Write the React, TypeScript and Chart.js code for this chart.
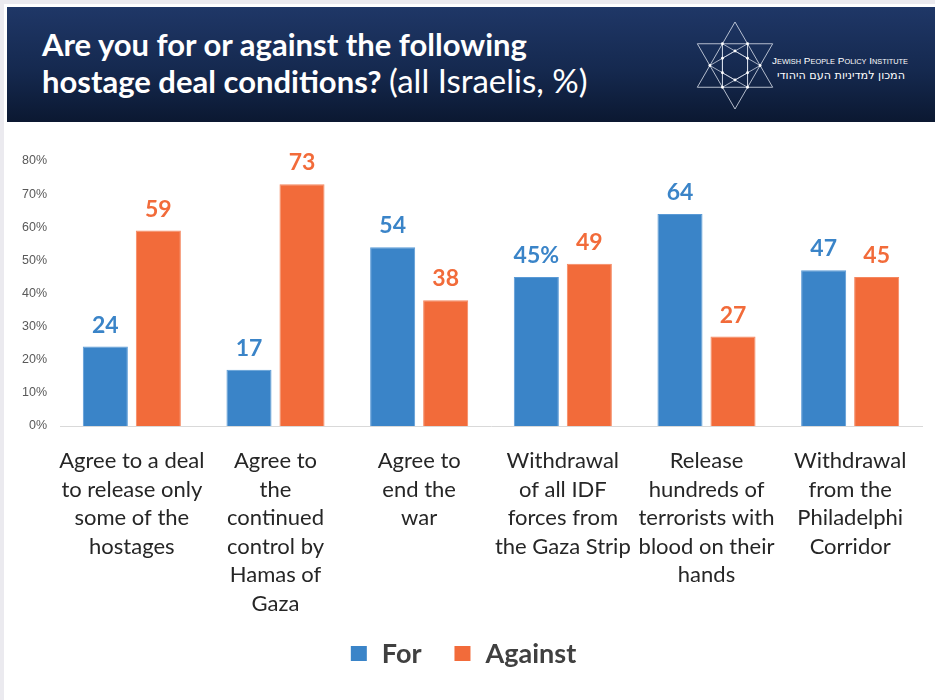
import React, { useEffect, useRef } from "react";
import { Chart, registerables } from "chart.js";
Chart.register(...registerables);

const categories: string[][] = [
  ["Agree to a deal", "to release only", "some of the", "hostages"],
  ["Agree to", "the", "continued", "control by", "Hamas of", "Gaza"],
  ["Agree to", "end the", "war"],
  ["Withdrawal", "of all IDF", "forces from", "the Gaza Strip"],
  ["Release", "hundreds of", "terrorists with", "blood on their", "hands"],
  ["Withdrawal", "from the", "Philadelphi", "Corridor"],
];
const seriesNames = ["For", "Against"];
const forValues = [24, 17, 54, 45, 64, 47];
const againstValues = [59, 73, 38, 49, 27, 45];
const yTicks = [0, 10, 20, 30, 40, 50, 60, 70, 80];

const BLUE = "#3A84C8";
const ORANGE = "#F26B3A";
const FONT = "Lato";

const valueLabels = {
  id: "valueLabels",
  afterDatasetsDraw(chart: any) {
    const ctx = chart.ctx;
    ctx.save();
    ctx.font = `700 23px "${FONT}"`;
    ctx.textAlign = "center";
    ctx.textBaseline = "alphabetic";
    chart.data.datasets.forEach((ds: any, di: number) => {
      const meta = chart.getDatasetMeta(di);
      meta.data.forEach((bar: any, i: number) => {
        const v = ds.data[i];
        const txt = di === 0 && i === 3 ? `${v}%` : `${v}`;
        ctx.fillStyle = ds.backgroundColor;
        ctx.fillText(txt, bar.x, bar.y - 14);
      });
    });
    ctx.restore();
  },
};

const customLegend = {
  id: "customLegend",
  afterDraw(chart: any) {
    const ctx = chart.ctx;
    ctx.save();
    ctx.font = `700 27px "${FONT}"`;
    ctx.textBaseline = "middle";
    const box = 16, textGap = 15, itemGap = 33;
    const items = chart.data.datasets.map((ds: any) => ({ text: ds.label, color: ds.backgroundColor, w: ctx.measureText(ds.label).width }));
    const total = items.reduce((s: number, it: any, i: number) => s + box + textGap + it.w + (i ? itemGap : 0), 0);
    let x = chart.width / 2 - 7 - total / 2;
    const y = 532;
    items.forEach((it: any, i: number) => {
      if (i) x += itemGap;
      ctx.fillStyle = it.color;
      ctx.fillRect(x, y - 7, box, box - 1);
      x += box + textGap;
      ctx.fillStyle = "#404040";
      ctx.fillText(it.text, x, y + 1);
      x += it.w;
    });
    ctx.restore();
  },
};

function Logo() {
  const cx = 735, cy = 65.5, R = 43.5;
  const pt = (ang: number, r: number) => [cx + r * Math.cos((ang * Math.PI) / 180), cy + r * Math.sin((ang * Math.PI) / 180)];
  const up = [-90, 30, 150].map((a) => pt(a, R));
  const down = [90, 210, 330].map((a) => pt(a, R));
  const r = R / Math.sqrt(3);
  const H = [0, 60, 120, 180, 240, 300].map((a) => pt(a, r));
  const ri = r / Math.sqrt(3);
  const I = [30, 90, 150, 210, 270, 330].map((a) => pt(a, ri));
  const poly = (p: number[][]) => p.map((q) => q.join(",")).join(" ");
  const stroke = "rgba(220,226,238,0.8)";
  return (
    <svg width={935} height={122} style={{ position: "absolute", left: 0, top: 0 }}>
      <polygon points={poly(up)} fill="none" stroke={stroke} strokeWidth={1} />
      <polygon points={poly(down)} fill="none" stroke={stroke} strokeWidth={1} />
      <line x1={H[1][0]} y1={H[1][1]} x2={H[5][0]} y2={H[5][1]} stroke={stroke} strokeWidth={0.9} />
      <line x1={H[2][0]} y1={H[2][1]} x2={H[4][0]} y2={H[4][1]} stroke={stroke} strokeWidth={0.9} />
      <polygon points={poly([H[0], H[2], H[4]])} fill="none" stroke={stroke} strokeWidth={0.9} />
      <polygon points={poly([H[1], H[3], H[5]])} fill="none" stroke={stroke} strokeWidth={0.9} />
      <polygon points={poly(I)} fill="none" stroke={stroke} strokeWidth={0.9} />
      {[...H, ...I].map((q, i) => (
        <circle key={"c" + i} cx={q[0]} cy={q[1]} r={1.4} fill="#fff" />
      ))}
      <text x={772} y={64} fill="#fff" fontFamily="Liberation Sans" fontSize={9.5} textLength={136} lengthAdjust="spacingAndGlyphs" style={{ fontVariant: "small-caps" }}>
        Jewish People Policy Institute
      </text>
      <text x={777} y={79} fill="#fff" fontFamily="DejaVu Sans" fontSize={11.5} textLength={128} lengthAdjust="spacingAndGlyphs">
        המכון למדיניות העם היהודי
      </text>
    </svg>
  );
}

export default function App() {
  const ref = useRef<HTMLCanvasElement>(null);
  useEffect(() => {
    const barStyle = { categoryPercentage: 0.738, barPercentage: 0.85, borderWidth: { top: 1, left: 1, right: 1, bottom: 0 } as any };
    const chart = new Chart(ref.current!, {
      type: "bar",
      data: {
        labels: categories,
        datasets: [
          { label: seriesNames[0], data: forValues, backgroundColor: BLUE, borderColor: "#5A9AD6", ...barStyle },
          { label: seriesNames[1], data: againstValues, backgroundColor: ORANGE, borderColor: "#F5875F", ...barStyle },
        ],
      },
      options: {
        animation: false,
        responsive: false,
        layout: { padding: { top: 40, right: 13, bottom: 74, left: 0 } },
        scales: {
          x: {
            grid: { display: false, drawTicks: false },
            border: { display: true, color: "#D9D9D9", width: 1 },
            ticks: { font: { family: FONT, size: 22, lineHeight: 1.295 }, color: "#262626", padding: 21, maxRotation: 0, minRotation: 0, autoSkip: false },
            afterFit: (s: any) => { s.height = 200; },
          },
          y: {
            min: 0,
            max: 80,
            afterBuildTicks: (s: any) => { s.ticks = yTicks.map((v) => ({ value: v })); },
            grid: { display: false, drawTicks: false },
            border: { display: false },
            ticks: { font: { family: "Liberation Sans", size: 12.5 }, color: "#595959", padding: 13, callback: (v: any) => `${v}%` },
            afterFit: (s: any) => { s.width = 54; },
          },
        },
        plugins: {
          legend: { display: false },
          tooltip: { enabled: false },
        },
      },
      plugins: [valueLabels, customLegend],
    });
    return () => chart.destroy();
  }, []);

  return (
    <div style={{ position: "absolute", left: 0, top: 0, width: 935, height: 700, background: "#EBEAEF", overflow: "hidden" }}>
      <div style={{ position: "absolute", left: 4, top: 4, width: 931, height: 696, background: "#fff" }} />
      <div style={{ position: "absolute", left: 7, top: 7, width: 928, height: 115, background: "linear-gradient(180deg, #1f3767 0%, #15294f 55%, #0b1831 100%)" }} />
      <div style={{ position: "absolute", left: 42, top: 26, color: "#fff", fontFamily: FONT, fontWeight: 700, fontSize: 31, lineHeight: "36px", whiteSpace: "nowrap" }}>
        <div>Are you for or against the following</div>
        <div>hostage deal conditions? <span style={{ fontWeight: 400, fontSize: 33 }}>(all Israelis, %)</span></div>
      </div>
      <Logo />
      <div style={{ position: "absolute", left: 6, top: 121, width: 929, height: 579 }}>
        <canvas ref={ref} width={929} height={579} style={{ display: "block" }} />
      </div>
    </div>
  );
}
